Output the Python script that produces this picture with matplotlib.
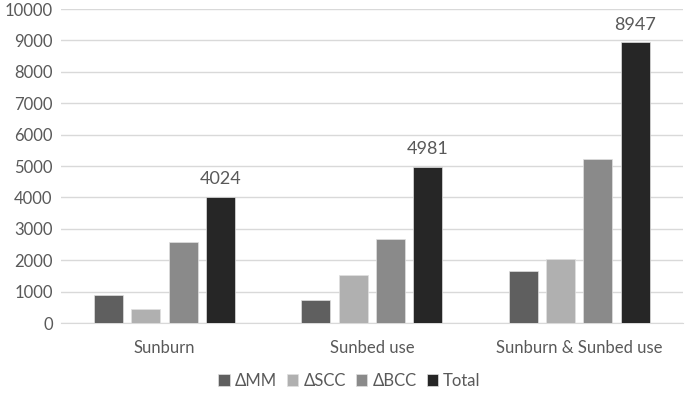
import matplotlib.pyplot as plt
import numpy as np

plt.rcParams['font.family'] = ['Lato', 'DejaVu Sans']

categories = ['Sunburn', 'Sunbed use', 'Sunburn & Sunbed use']
series = ['ΔMM', 'ΔSCC', 'ΔBCC', 'Total']
mm = [910, 720, 1665]
scc = [455, 1535, 2035]
bcc = [2575, 2670, 5210]
total = [4024, 4981, 8947]
colors = ['#5f5f5f', '#b0b0b0', '#8a8a8a', '#262626']
text_col = '#595959'

fig = plt.figure(figsize=(6.85, 3.94), dpi=100)
ax = fig.add_axes([0.089, 0.18, 0.908, 0.797])

x = np.arange(len(categories))
w = 0.14
step = 0.18
for k, (vals, c, lab) in enumerate(zip([mm, scc, bcc, total], colors, series)):
    bars = ax.bar(x + (k - 1.5) * step, vals, w, color=c, label=lab,
                  edgecolor='#e0e0e0', linewidth=0.5, zorder=3)
    if lab == 'Total':
        for b, v in zip(bars, vals):
            ax.text(b.get_x() + b.get_width() / 2, v + 300, str(v),
                    ha='center', va='bottom', fontsize=13, color=text_col)

ax.set_xlim(-0.5, 2.5)
ax.set_ylim(0, 10000)
ax.set_yticks(np.arange(0, 10001, 1000))
ax.set_xticks(x)
ax.set_xticklabels(categories)
ax.grid(axis='y', color='#d9d9d9', linewidth=1, zorder=0)
for s in ['top', 'right', 'left']:
    ax.spines[s].set_visible(False)
ax.spines['bottom'].set_color('#d9d9d9')
ax.tick_params(axis='both', length=0, labelsize=12, labelcolor=text_col)
ax.tick_params(axis='x', pad=12)
ax.tick_params(axis='y', pad=6)

fig.legend(loc='lower center', bbox_to_anchor=(0.51, -0.025), ncol=4, frameon=False,
           fontsize=12, labelcolor=text_col, handlelength=0.7, handleheight=0.7,
           handletextpad=0.3, columnspacing=0.6)

fig.savefig('out.png', dpi=100)
